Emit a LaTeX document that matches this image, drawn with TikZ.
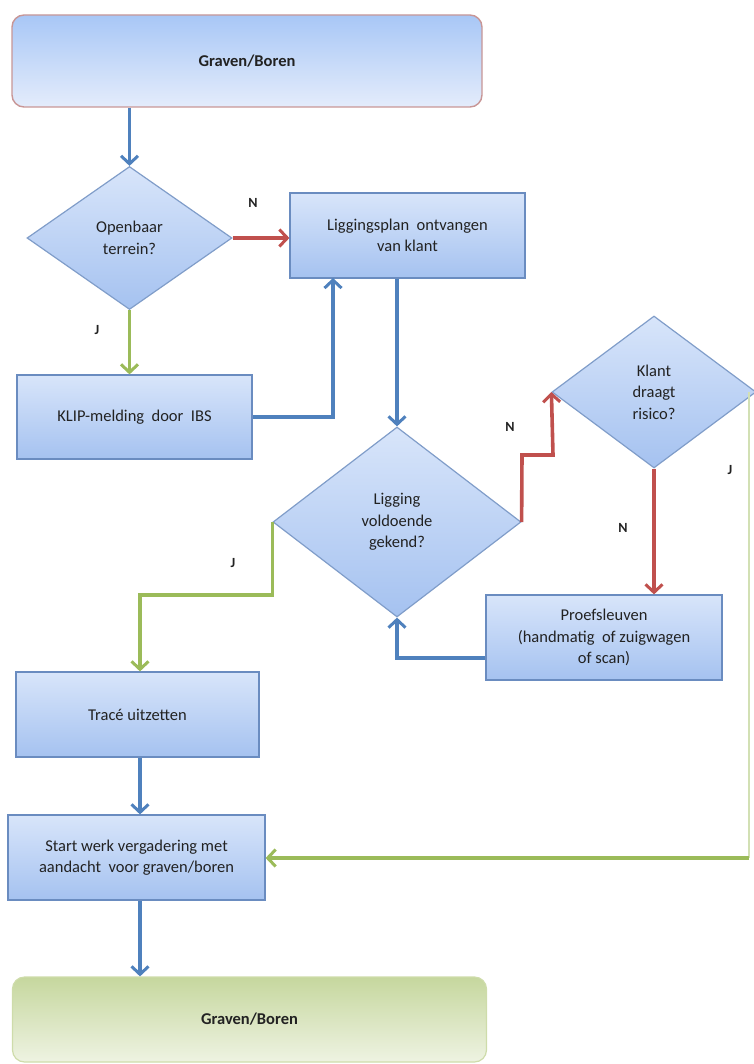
\documentclass[tikz,border=0pt]{standalone}
\usepackage{fontspec}
\setmainfont{Carlito}
\usetikzlibrary{arrows.meta,shapes.geometric,calc}
\definecolor{lblue}{HTML}{4F81BD}
\definecolor{lred}{HTML}{C0504D}
\definecolor{lgreen}{HTML}{9BBB59}
\definecolor{boxtop}{HTML}{D8E5FA}
\definecolor{boxbot}{HTML}{A5C2F0}
\definecolor{boxdraw}{HTML}{6A8CC0}
\definecolor{txt}{HTML}{222222}
\definecolor{gtop}{HTML}{C6D79E}
\definecolor{gbot}{HTML}{EEF3E2}
\begin{document}
\begin{tikzpicture}[x=1pt,y=-1pt,
  every node/.style={text=txt, font=\fontsize{16.5}{21.5}\selectfont, align=center, inner sep=2pt},
  procbox/.style={rectangle, draw=boxdraw, line width=1.2pt, top color=boxtop, bottom color=boxbot},
  decbox/.style={diamond, draw=boxdraw!85, line width=1.2pt, top color=boxtop, bottom color=boxbot, inner sep=0pt},
  termtop/.style={rectangle, rounded corners=12pt, draw={rgb,255:red,200;green,150;blue,150}, line width=1.4pt, top color={rgb,255:red,168;green,199;blue,246}, bottom color={rgb,255:red,228;green,236;blue,251}},
  termbot/.style={rectangle, rounded corners=12pt, draw={rgb,255:red,206;green,220;blue,170}, line width=1.2pt, top color=gtop, bottom color=gbot},
  conn/.style={line width=3.6pt, -{Straight Barb[length=8pt,width=17pt,line width=3pt]}},
  bluec/.style={conn, draw=lblue},
  redc/.style={conn, draw=lred},
  greenc/.style={conn, draw=lgreen},
  lbl/.style={font=\fontsize{14}{16}\selectfont\bfseries, text=txt}
]
\useasboundingbox (0,0) rectangle (753,1064);

% nodes
\node[termtop, minimum width=470, minimum height=92] (top) at (247,61) {\textbf{Graven/Boren}};
\node[decbox, minimum width=205, minimum height=143] (open) at (129.5,238) {Openbaar\\terrein?};
\node[procbox, minimum width=235, minimum height=85] (plan) at (407.5,235.5) {Liggingsplan\ \ ontvangen\\van klant};
\node[procbox, minimum width=235, minimum height=84] (klip) at (134.5,417) {KLIP-melding\ \ door\ \ IBS};
\node[decbox, minimum width=248, minimum height=190] (lig) at (397,522) {Ligging\\voldoende\\gekend?};
\node[decbox, minimum width=204, minimum height=152] (klant) at (654,392) {Klant\\draagt\\risico?};
\node[procbox, minimum width=236, minimum height=85] (proef) at (604,637.5) {Proefsleuven\\(handmatig\ \ of zuigwagen\\of scan)};
\node[procbox, minimum width=243, minimum height=85] (trace) at (137.5,714.5) {Trac\'e uitzetten};
\node[procbox, minimum width=257, minimum height=85] (start) at (136.5,857.5) {Start werk vergadering met\\aandacht\ \ voor graven/boren};
\node[termbot, minimum width=474, minimum height=85] (bot) at (249.5,1019.5) {\textbf{Graven/Boren}};

% helper coordinates
\coordinate (kup) at (333,278);
\coordinate (rstep1) at (522,455);
\coordinate (rstep2) at (553,455);
\coordinate (gj) at (140,595);
\coordinate (pb) at (397,658);
\coordinate (jx) at (749,392);
\coordinate (jc) at (749,858);

% connectors
\draw[bluec] (top.south -| open.north) -- (open.north);
\draw[redc] (open.east) -- (open.east -| plan.west);
\draw[greenc] (open.south) -- (open.south |- klip.north);
\draw[bluec] (klip.east) -| (kup);
\draw[bluec] (plan.south -| lig.north) -- (lig.north);
\draw[redc] (lig.east) -- (rstep1) -- (rstep2) -- (klant.west);
\draw[redc] (klant.south) -- (klant.south |- proef.north);
\draw[bluec] (proef.west |- pb) -- (pb) -- (lig.south);
\draw[greenc] (lig.west) |- (gj) -- (gj |- trace.north);
\draw[bluec] (trace.south -| gj) -- (gj |- start.north);
\draw[bluec] (start.south -| gj) -- (gj |- bot.north);
\draw[lgreen!45, line width=1.5pt] (jx) -- (jc);
\draw[greenc] (jc) -- (jc -| start.east);

% labels
\node[lbl] (n1) at (253,203) {N};
\node[lbl] (j1) at (97,330) {J};
\node[lbl] (n2) at (510,427) {N};
\node[lbl] (j2) at (730,470) {J};
\node[lbl] (n3) at (623,528) {N};
\node[lbl] (j3) at (233,563) {J};
\end{tikzpicture}
\end{document}
